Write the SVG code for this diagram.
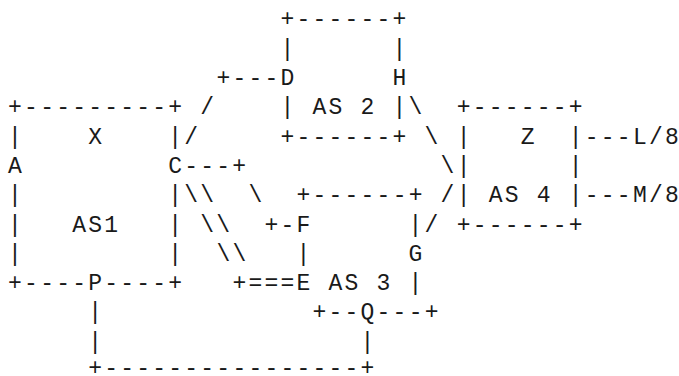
<svg xmlns="http://www.w3.org/2000/svg" width="679" height="376" viewBox="0 0 679 376" xml:space="preserve">
  <style>
    text { font-family: "Liberation Mono", "Courier New", "DejaVu Sans Mono", monospace; font-size: 23px; letter-spacing: 2.22px; fill: #1a1a1a; white-space: pre; }
    text.fixed { letter-spacing: 0; }
  </style>
  <rect width="679" height="376" fill="#ffffff"/>

  <!-- character grid: column c starts at x = 8.1 + 16.02c, row r baseline at y = 26.4 + 29.3r -->

  <g id="as1">
    <text x="8.1" y="114.3">+---------+</text>
    <text x="8.1" y="143.6">|</text>
    <text x="88.2" y="143.6">X</text>
    <text x="168.3" y="143.6">|</text>
    <text x="8.1" y="172.9">A</text>
    <text x="168.3" y="172.9">C</text>
    <text x="8.1" y="202.2">|</text>
    <text x="168.3" y="202.2">|</text>
    <text x="8.1" y="231.5">|</text>
    <text x="72.2" y="231.5">AS1</text>
    <text x="168.3" y="231.5">|</text>
    <text x="8.1" y="260.8">|</text>
    <text x="168.3" y="260.8">|</text>
    <text x="8.1" y="290.1">+----P----+</text>
  </g>

  <g id="as2">
    <text x="280.4" y="26.4">+------+</text>
    <text x="280.4" y="55.7">|</text>
    <text x="392.6" y="55.7">|</text>
    <text x="280.4" y="85.0">D</text>
    <text x="392.6" y="85.0">H</text>
    <text x="280.4" y="114.3">|</text>
    <text x="312.5" y="114.3">AS 2</text>
    <text x="392.6" y="114.3">|</text>
    <text x="280.4" y="143.6">+------+</text>
  </g>

  <g id="as3">
    <text x="296.5" y="202.2">+------+</text>
    <text x="296.5" y="231.5">F</text>
    <text x="408.6" y="231.5">|</text>
    <text x="296.5" y="260.8">|</text>
    <text x="408.6" y="260.8">G</text>
    <text x="296.5" y="290.1">E</text>
    <text x="328.5" y="290.1">AS 3</text>
    <text x="408.6" y="290.1">|</text>
    <text x="312.5" y="319.4">+--Q---+</text>
  </g>

  <g id="as4">
    <text x="456.7" y="114.3">+------+</text>
    <text x="456.7" y="143.6">|</text>
    <text x="520.7" y="143.6">Z</text>
    <text x="568.8" y="143.6">|</text>
    <text x="456.7" y="172.9">|</text>
    <text x="568.8" y="172.9">|</text>
    <text x="456.7" y="202.2">|</text>
    <text x="488.7" y="202.2">AS 4</text>
    <text x="568.8" y="202.2">|</text>
    <text x="456.7" y="231.5">+------+</text>
  </g>

  <g id="connectors">
    <!-- D to C -->
    <text x="216.4" y="85.0">+---</text>
    <text x="200.3" y="114.3">/</text>
    <text x="184.3" y="143.6">/</text>
    <!-- H to AS 4 -->
    <text x="408.6" y="114.3">\</text>
    <text x="424.6" y="143.6">\</text>
    <text x="440.6" y="172.9">\</text>
    <!-- G to AS 4 -->
    <text x="440.6" y="202.2">/</text>
    <text x="424.6" y="231.5">/</text>
    <!-- external links, placed glyph by glyph so nothing runs past the right edge -->
    <text class="fixed" x="584.8 600.8 616.8 632.9 648.9 664.9" y="143.6">---L/8</text>
    <text class="fixed" x="584.8 600.8 616.8 632.9 648.9 664.9" y="202.2">---M/8</text>
    <!-- C to F -->
    <text x="184.3" y="172.9">---+</text>
    <text x="248.4" y="202.2">\</text>
    <text x="264.4" y="231.5">+-</text>
    <!-- C to E, double link -->
    <text x="184.3" y="202.2">\\</text>
    <text x="200.3" y="231.5">\\</text>
    <text x="216.4" y="260.8">\\</text>
    <text x="232.4" y="290.1">+===</text>
    <!-- P to Q -->
    <text x="88.2" y="319.4">|</text>
    <text x="88.2" y="348.7">|</text>
    <text x="360.5" y="348.7">|</text>
    <text x="88.2" y="374.5">+----------------+</text>
  </g>
</svg>
